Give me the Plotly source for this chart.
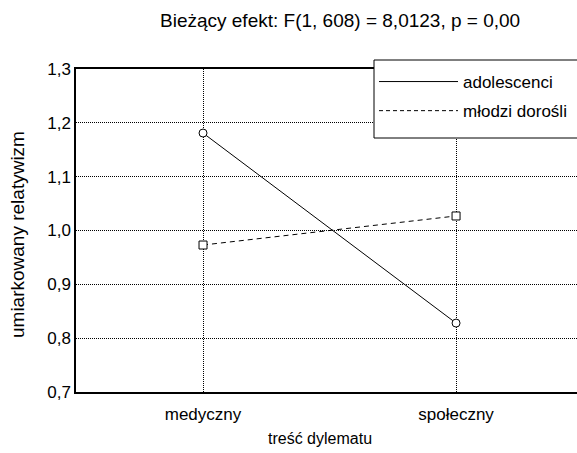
import plotly.graph_objects as go

categories = ["medyczny", "społeczny"]
adolescenci = [1.181, 0.828]
mlodzi_dorosli = [0.973, 1.027]
y_ticks = [0.7, 0.8, 0.9, 1.0, 1.1, 1.2, 1.3]
y_tick_labels = ["0,7", "0,8", "0,9", "1,0", "1,1", "1,2", "1,3"]

FONT = "Liberation Sans, Arial, sans-serif"
W, H = 577, 453
ML, MR, MT, MB = 76, 0, 69, 61
PW, PH = W - ML - MR, H - MT - MB


def px_x(px):
    return (px - ML) / PW


def px_y(py):
    return (H - MB - py) / PH


fig = go.Figure()
fig.add_trace(go.Scatter(
    x=categories, y=adolescenci, mode="lines+markers", showlegend=False,
    line=dict(color="black", width=1),
    marker=dict(symbol="circle", size=8, color="white", line=dict(width=1, color="black")),
))
fig.add_trace(go.Scatter(
    x=categories, y=mlodzi_dorosli, mode="lines+markers", showlegend=False,
    line=dict(color="black", width=1, dash="5px,4px"),
    marker=dict(symbol="square", size=8, color="white", line=dict(width=1, color="black")),
))
# legend entries (lines only)
fig.add_trace(go.Scatter(x=[None], y=[None], mode="lines", name="adolescenci",
                         legendgroup="a", line=dict(color="black", width=1)))
fig.add_trace(go.Scatter(x=[None], y=[None], mode="lines", name="młodzi dorośli",
                         legendgroup="b", line=dict(color="black", width=1, dash="4px,3px")))

# legend frame (extends past the right edge as in the reference)
fig.add_shape(type="rect", xref="paper", yref="paper", layer="above",
              x0=px_x(374), x1=px_x(600), y0=px_y(138), y1=px_y(60),
              fillcolor="white", line=dict(color="black", width=1))

fig.update_layout(
    width=W, height=H,
    margin=dict(l=ML, r=MR, t=MT, b=MB, autoexpand=False),
    paper_bgcolor="white", plot_bgcolor="white",
    font=dict(family=FONT, size=17, color="black"),
    showlegend=True,
    legend=dict(
        x=px_x(374), xanchor="left",
        y=px_y(64), yanchor="top",
        bgcolor="rgba(0,0,0,0)", borderwidth=0,
        font=dict(size=17), itemwidth=79,
        traceorder="grouped", tracegroupgap=4,
    ),
)
fig.update_xaxes(
    type="category", range=[-0.502, 1.478],
    showline=True, linecolor="black", linewidth=2, mirror=True,
    showgrid=True, gridcolor="black", griddash="1px,1px", gridwidth=1,
    ticks="", ticklabelstandoff=6, zeroline=False,
    tickfont=dict(size=17),
)
fig.update_yaxes(
    range=[0.7, 1.3], tickvals=y_ticks, ticktext=y_tick_labels,
    showline=True, linecolor="black", linewidth=1.5, mirror=True,
    showgrid=True, gridcolor="black", griddash="1px,1px", gridwidth=1,
    ticks="", zeroline=False, tickfont=dict(size=17),
)
fig.add_annotation(text="Bieżący efekt: F(1, 608) = 8,0123, p = 0,00",
                   xref="paper", yref="paper", x=px_x(340), y=px_y(20),
                   showarrow=False, font=dict(size=19), xanchor="center", yanchor="middle")
fig.add_annotation(text="treść dylematu",
                   xref="paper", yref="paper", x=px_x(320), y=px_y(438),
                   showarrow=False, font=dict(size=16), xanchor="center", yanchor="middle")
fig.add_annotation(text="umiarkowany relatywizm", textangle=-90,
                   xref="paper", yref="paper", x=px_x(18), y=px_y(235),
                   showarrow=False, font=dict(size=19), xanchor="center", yanchor="middle")

fig.write_html("out.html", config={"displayModeBar": False},
               post_script="document.body.style.margin='0';")
